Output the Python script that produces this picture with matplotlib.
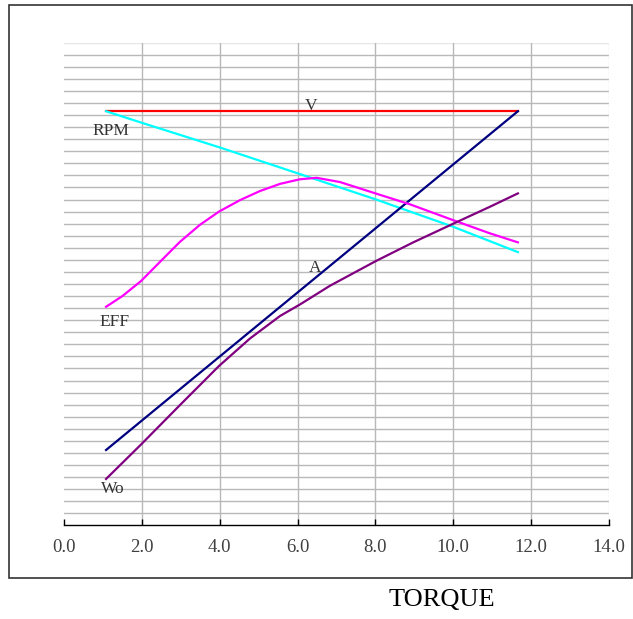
import matplotlib
matplotlib.use("Agg")
import matplotlib.pyplot as plt
from matplotlib.patches import Rectangle

# ---- data ----
x_ticks = [0, 2, 4, 6, 8, 10, 12, 14]
x_tick_labels = ["0.0", "2.0", "4.0", "6.0", "8.0", "10.0", "12.0", "14.0"]

v_x = [1.08, 11.66]
v_y = [34.32, 34.32]

rpm_x = [1.08, 2.0, 4.0, 5.81, 8.01, 10.0, 11.66]
rpm_y = [34.32, 33.36, 31.32, 29.38, 27.01, 24.74, 22.64]

a_x = [1.08, 11.66]
a_y = [6.24, 34.32]

eff_x = [1.08, 1.5, 1.98, 2.64, 2.98, 3.49, 3.98, 4.52, 5.03, 5.55, 6.06,
         6.49, 7.09, 8.01, 8.89, 9.99, 10.94, 11.66]
eff_y = [18.11, 19.0, 20.25, 22.4, 23.5, 24.9, 26.0, 26.95, 27.7, 28.3,
         28.68, 28.8, 28.45, 27.5, 26.6, 25.3, 24.2, 23.45]

wo_x = [1.08, 1.98, 2.98, 3.98, 4.78, 5.55, 6.06, 6.83, 8.01, 8.97, 10.0,
        10.94, 11.66]
wo_y = [3.84, 6.7, 9.97, 13.2, 15.49, 17.35, 18.3, 19.85, 21.9, 23.45,
        25.0, 26.4, 27.51]

labels = ["V", "RPM", "A", "EFF", "Wo"]
label_x = [6.35, 1.21, 6.46, 1.31, 1.25]
label_y = [34.74, 32.72, 21.32, 16.85, 2.99]

# ---- figure ----
fig = plt.figure(figsize=(6.33, 6.19), dpi=100)
fig.patch.set_facecolor("white")
fig.patches.append(Rectangle((9 / 633, 1 - 578 / 619), (632 - 9) / 633, (578 - 5) / 619,
                             transform=fig.transFigure, fill=False,
                             edgecolor="#333333", linewidth=1.2))

ax = fig.add_axes([64 / 633, 1 - 525.3 / 619, (609 - 64) / 633, (525.3 - 42.7) / 619])
ax.set_xlim(0, 14)
ax.set_ylim(0, 40)

for yy in range(1, 40):
    ax.axhline(yy, color="#b8b8b8", linewidth=1.0, zorder=1)
ax.axhline(40, color="#e6e6e6", linewidth=1.0, zorder=1)
for xx in x_ticks[1:-1]:
    ax.axvline(xx, color="#b8b8b8", linewidth=1.0, zorder=1)
ax.axvline(14, color="#e6e6e6", linewidth=1.0, zorder=1)

ax.plot(v_x, v_y, color="#ff0000", linewidth=1.6, zorder=3)
ax.plot(rpm_x, rpm_y, color="#00ffff", linewidth=1.6, zorder=3)
ax.plot(a_x, a_y, color="#000080", linewidth=1.6, zorder=3)
ax.plot(eff_x, eff_y, color="#ff00ff", linewidth=1.6, zorder=3)
ax.plot(wo_x, wo_y, color="#800080", linewidth=1.6, zorder=3)

for t, lx, ly in zip(labels, label_x, label_y):
    ax.text(lx, ly, t, ha="center", va="center", fontsize=12.5,
            family="Liberation Serif", color="#333333", zorder=4)

for s in ["left", "right", "top"]:
    ax.spines[s].set_visible(False)
ax.spines["bottom"].set_color("#000000")
ax.spines["bottom"].set_linewidth(1.0)
ax.set_yticks([])
ax.set_xticks(x_ticks)
ax.set_xticklabels(x_tick_labels, family="Liberation Serif", fontsize=13.5, color="#404040")
ax.tick_params(axis="x", direction="in", length=4, width=1, color="#000000", pad=10)

fig.text(442 / 633, 1 - 600.5 / 619, "TORQUE", ha="center", va="center",
         fontsize=19, family="Liberation Serif", color="#000000")

fig.savefig("out.png", dpi=100, facecolor="white")
